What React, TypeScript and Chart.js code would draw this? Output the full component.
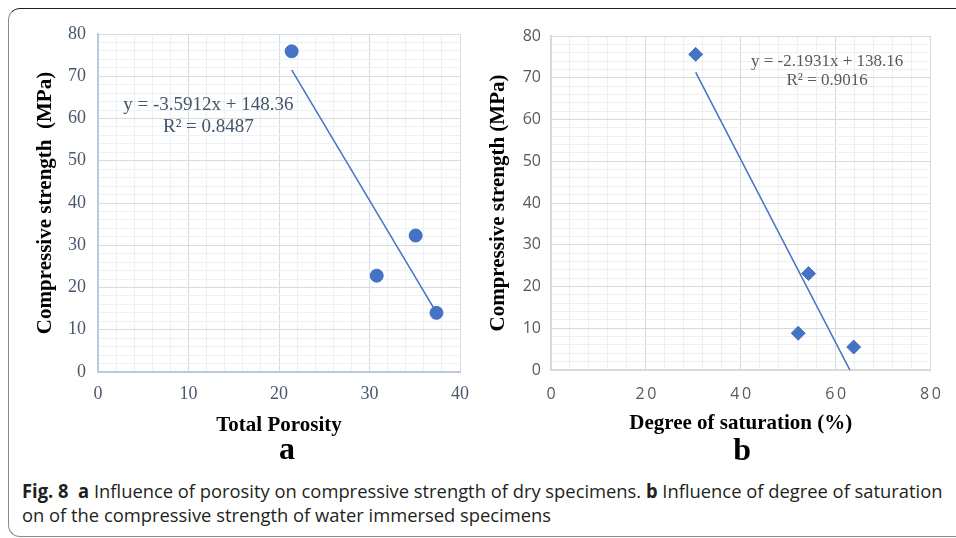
import React, { useEffect, useRef } from "react";
import { Chart, registerables } from "chart.js";

Chart.register(...registerables);

// Panel a: dry specimens, total porosity against compressive strength
const porosity = [21.4, 30.8, 35.1, 37.4];
const dryStrength = [75.9, 22.8, 32.3, 14.0];
const dryFit = { slope: -3.5912, intercept: 148.36, r2: 0.8487 };
const porosityTicks = [0, 10, 20, 30, 40];

// Panel b: water immersed specimens, degree of saturation against compressive strength
const saturation = [30.5, 52.1, 54.3, 63.8];
const wetStrength = [75.6, 8.8, 23.1, 5.5];
const wetFit = { slope: -2.1931, intercept: 138.16, r2: 0.9016 };
const saturationTicks = [0, 20, 40, 60, 80];

const strengthTicks = [0, 10, 20, 30, 40, 50, 60, 70, 80];

const BLUE = "#4472C4";
const SERIF = '"Liberation Serif", "Times New Roman", serif';
const SANS = '"Open Sans", "Noto Sans", sans-serif';

// Linear trend drawn across the measured x range
function fitLine(xs: number[], fit: { slope: number; intercept: number }) {
  const lo = Math.min(...xs);
  const hi = Math.max(...xs);
  return [lo, hi].map((x) => ({ x, y: fit.slope * x + fit.intercept }));
}

function equationLines(fit: { slope: number; intercept: number; r2: number }) {
  const sign = fit.intercept < 0 ? "-" : "+";
  return [`y = ${fit.slope}x ${sign} ${Math.abs(fit.intercept)}`, `R² = ${fit.r2}`];
}

const annotate = {
  id: "annotate",
  afterDatasetsDraw(chart: any, _args: any, opts: any) {
    const { ctx, chartArea, scales } = chart;
    ctx.save();
    ctx.textAlign = "center";
    ctx.textBaseline = "middle";
    ctx.fillStyle = opts.eqColor;
    ctx.font = `${opts.eqSize}px ${SERIF}`;
    const cx = scales.x.getPixelForValue(opts.eqX);
    const cy = scales.y.getPixelForValue(opts.eqY);
    (opts.lines as string[]).forEach((t, i) => ctx.fillText(t, cx, cy + i * opts.eqGap));
    ctx.font = `bold ${opts.letterSize}px ${SERIF}`;
    ctx.fillStyle = "#000";
    ctx.textBaseline = "alphabetic";
    ctx.fillText(opts.letter, (chartArea.left + chartArea.right) / 2 + opts.letterDx, opts.letterBaseline);
    ctx.restore();
  },
};

type Spec = {
  width: number;
  height: number;
  left: number;
  xs: number[];
  ys: number[];
  fit: { slope: number; intercept: number; r2: number };
  xMax: number;
  xStep: number;
  xMajor: number;
  xLabels: number[];
  xTitle: string;
  yTitle: string;
  pointStyle: string;
  pointRadius: number;
  tickFont: { family: string; size: number };
  tickColor: string;
  spacedX: boolean;
  majorGrid: string;
  minorGrid: string;
  axisLine: string;
  padTop: number;
  padRight: number;
  yWidth: number;
  xHeight: number;
  xTickPad: number;
  yTickPad: number;
  xTitlePad: number;
  yTitlePad: number;
  eqX: number;
  eqY: number;
  eqSize: number;
  eqGap: number;
  eqColor: string;
  letter: string;
  letterDx: number;
  letterBaseline: number;
};

const panelA: Spec = {
  width: 480,
  height: 470,
  left: 0,
  xs: porosity,
  ys: dryStrength,
  fit: dryFit,
  xMax: 40,
  xStep: 2,
  xMajor: 10,
  xLabels: porosityTicks,
  xTitle: "Total Porosity",
  yTitle: "Compressive strength  (MPa)",
  pointStyle: "circle",
  pointRadius: 6.5,
  tickFont: { family: SERIF, size: 18 },
  tickColor: "#4A576B",
  spacedX: false,
  majorGrid: "#D5DCE6",
  minorGrid: "#EDF0F5",
  axisLine: "#BCC8DC",
  padTop: 34,
  padRight: 20,
  yWidth: 98,
  xHeight: 98,
  xTickPad: 11,
  yTickPad: 12,
  xTitlePad: 32,
  yTitlePad: 33,
  eqX: 12.2,
  eqY: 63.2,
  eqSize: 19,
  eqGap: 22,
  eqColor: "#44546A",
  letter: "a",
  letterDx: 8,
  letterBaseline: 459,
};

const panelB: Spec = {
  width: 476,
  height: 470,
  left: 480,
  xs: saturation,
  ys: wetStrength,
  fit: wetFit,
  xMax: 80,
  xStep: 4,
  xMajor: 20,
  xLabels: saturationTicks,
  xTitle: "Degree of saturation (%)",
  yTitle: "Compressive strength (MPa)",
  pointStyle: "rectRot",
  pointRadius: 7,
  tickFont: { family: SANS, size: 16 },
  tickColor: "#595959",
  spacedX: true,
  majorGrid: "#D9D9D9",
  minorGrid: "#EFEFEF",
  axisLine: "#D9D9D9",
  padTop: 36,
  padRight: 24,
  yWidth: 71,
  xHeight: 100,
  xTickPad: 15,
  yTickPad: 10,
  xTitlePad: 34,
  yTitlePad: 6,
  eqX: 58.2,
  eqY: 73.8,
  eqSize: 17,
  eqGap: 19,
  eqColor: "#595959",
  letter: "b",
  letterDx: 1.5,
  letterBaseline: 460,
};

function buildConfig(s: Spec): any {
  const titleFont = { family: SERIF, size: 21, weight: "bold" as const };
  return {
    type: "scatter",
    data: {
      datasets: [
        {
          data: s.xs.map((x, i) => ({ x, y: s.ys[i] })),
          pointStyle: s.pointStyle,
          pointRadius: s.pointRadius,
          pointBackgroundColor: BLUE,
          pointBorderColor: BLUE,
          pointBorderWidth: 1,
          showLine: false,
        },
        {
          data: fitLine(s.xs, s.fit),
          showLine: true,
          borderColor: BLUE,
          borderWidth: 1.5,
          pointRadius: 0,
          fill: false,
        },
      ],
    },
    options: {
      responsive: false,
      animation: false,
      devicePixelRatio: 1,
      layout: { padding: { top: s.padTop, right: s.padRight, left: 0, bottom: 0 } },
      plugins: {
        legend: { display: false },
        tooltip: { enabled: false },
        annotate: {
          lines: equationLines(s.fit),
          eqX: s.eqX,
          eqY: s.eqY,
          eqSize: s.eqSize,
          eqGap: s.eqGap,
          eqColor: s.eqColor,
          letter: s.letter,
          letterSize: 32,
          letterDx: s.letterDx,
          letterBaseline: s.letterBaseline,
        },
      },
      scales: {
        x: {
          type: "linear",
          position: "bottom",
          min: 0,
          max: s.xMax,
          afterFit: (sc: any) => {
            sc.height = s.xHeight;
          },
          ticks: {
            stepSize: s.xStep,
            maxTicksLimit: 200,
            autoSkip: false,
            maxRotation: 0,
            padding: s.xTickPad,
            font: s.tickFont,
            color: s.tickColor,
            callback: (v: number) =>
              s.xLabels.includes(v) ? (s.spacedX ? String(v).split("").join("\u2009") : String(v)) : "",
          },
          grid: {
            drawTicks: false,
            lineWidth: 1,
            color: (c: any) => (c.tick && c.tick.value % s.xMajor === 0 ? s.majorGrid : s.minorGrid),
          },
          border: { color: s.axisLine, width: 2 },
          title: {
            display: true,
            text: s.xTitle,
            color: "#000",
            font: titleFont,
            padding: { top: 0, bottom: s.xTitlePad },
          },
        },
        y: {
          type: "linear",
          min: 0,
          max: 80,
          afterFit: (sc: any) => {
            sc.width = s.yWidth;
          },
          ticks: {
            stepSize: 2,
            maxTicksLimit: 200,
            autoSkip: false,
            padding: s.yTickPad,
            font: s.tickFont,
            color: s.tickColor,
            callback: (v: number) => (strengthTicks.includes(v) ? String(v) : ""),
          },
          grid: {
            drawTicks: false,
            lineWidth: 1,
            color: (c: any) => (c.tick && c.tick.value % 10 === 0 ? s.majorGrid : s.minorGrid),
          },
          border: { color: s.axisLine, width: 2 },
          title: {
            display: true,
            text: s.yTitle,
            color: "#000",
            font: titleFont,
            padding: { top: s.yTitlePad, bottom: 0 },
          },
        },
      },
    },
    plugins: [annotate],
  };
}

function Panel({ spec }: { spec: Spec }) {
  const ref = useRef<HTMLCanvasElement>(null);
  useEffect(() => {
    if (!ref.current) return;
    const chart = new Chart(ref.current, buildConfig(spec));
    return () => chart.destroy();
  }, [spec]);
  return (
    <canvas
      ref={ref}
      width={spec.width}
      height={spec.height}
      style={{ position: "absolute", left: spec.left, top: 0, width: spec.width, height: spec.height }}
    />
  );
}

export default function App() {
  const captionFont = '"Open Sans", "Noto Sans", sans-serif';
  return (
    <div
      style={{
        position: "fixed",
        left: 0,
        top: 0,
        width: 956,
        height: 538,
        overflow: "hidden",
        background: "#fff",
      }}
    >
      <div
        style={{
          position: "absolute",
          left: 8,
          top: 8,
          width: 1000,
          height: 529,
          boxSizing: "border-box",
          borderTop: "1.5px solid #1e1e1e",
          borderLeft: "1px solid #8a8a8a",
          borderBottom: "1px solid #8a8a8a",
          borderRadius: 12,
        }}
      />
      <Panel spec={panelA} />
      <Panel spec={panelB} />
      <div
        style={{
          position: "absolute",
          left: 22,
          top: 479,
          fontFamily: captionFont,
          fontSize: 19,
          lineHeight: "24px",
          color: "#231F20",
          whiteSpace: "nowrap",
          transform: "scaleX(0.966)",
          transformOrigin: "0 0",
        }}
      >
        <div>
          <b>Fig. 8</b>&nbsp; <b>a</b> Influence of porosity on compressive strength of dry specimens. <b>b</b>{" "}
          Influence of degree of saturation
        </div>
        <div>on of the compressive strength of water immersed specimens</div>
      </div>
    </div>
  );
}
